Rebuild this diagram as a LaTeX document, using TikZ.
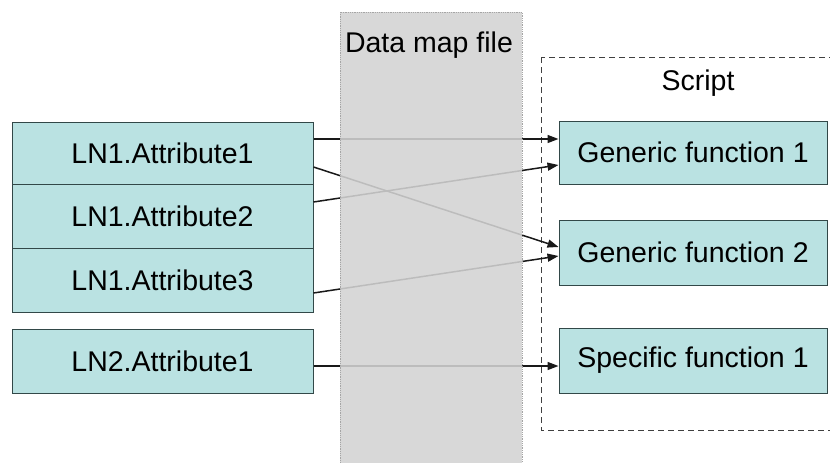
\documentclass[tikz,border=0pt]{standalone}
\usepackage{fontspec}
\setmainfont{Liberation Sans}
\usetikzlibrary{arrows.meta}
\definecolor{boxfill}{RGB}{186,226,226}
\definecolor{boxline}{RGB}{50,72,72}
\definecolor{bandfill}{RGB}{211,211,211}
\definecolor{bandline}{RGB}{165,165,165}
\begin{document}
\begin{tikzpicture}[x=1pt,y=-1pt,
  box/.style={draw=boxline, line width=1pt, fill=boxfill, inner sep=0pt,
    font=\fontsize{28.5}{33}\selectfont},
  lbox/.style={box, minimum width=301pt},
  rbox/.style={box, minimum width=268pt},
  lbl/.style={inner sep=0pt, font=\fontsize{28.5}{33}\selectfont},
  arr/.style={draw=black!90, line width=1.5pt, -{Triangle[length=11pt,width=8pt]}}]
\useasboundingbox (0,0) rectangle (830,463);
% dashed script frame
\draw[draw=black!75, line width=1pt, dash pattern=on 6pt off 4pt] (541,57) rectangle (860,430);
\node[lbl] (script) at (698,83) {Script};
% left boxes
\node[lbox, minimum height=62pt] (a1) at (162.5,153) {LN1.Attribute1};
\node[lbox, minimum height=64pt] (a2) at (162.5,216) {LN1.Attribute2};
\node[lbox, minimum height=64pt] (a3) at (162.5,280) {LN1.Attribute3};
\node[lbox, minimum height=64pt] (b1) at (162.5,361) {LN2.Attribute1};
% right boxes
\node[rbox, minimum height=63pt] (g1) at (693,152.5) {Generic function 1};
\node[rbox, minimum height=65pt] (g2) at (693,252.5) {Generic function 2};
\node[rbox, minimum height=65pt] (s1) at (693,360.5) {Specific function 1};
% connectors
\draw[arr] ([yshift=14pt]a1.east) -- ([yshift=13.5pt]g1.west);
\draw[arr] ([yshift=-14pt]a1.east) -- ([yshift=5.5pt]g2.west);
\draw[arr] ([yshift=14pt]a2.east) -- ([yshift=-12.5pt]g1.west);
\draw[arr] ([yshift=-13pt]a3.east) -- ([yshift=-3.5pt]g2.west);
\draw[arr] ([yshift=-5pt]b1.east) -- ([yshift=-5.5pt]s1.west);
% data map band
\fill[bandfill, fill opacity=0.88] (340,12) rectangle (522,470);
\draw[bandline, line width=0.8pt, densely dotted] (340,470) -- (340,12) -- (522,12) -- (522,470);
\node[lbl] (datamap) at (429,45) {Data map file};
\end{tikzpicture}
\end{document}
